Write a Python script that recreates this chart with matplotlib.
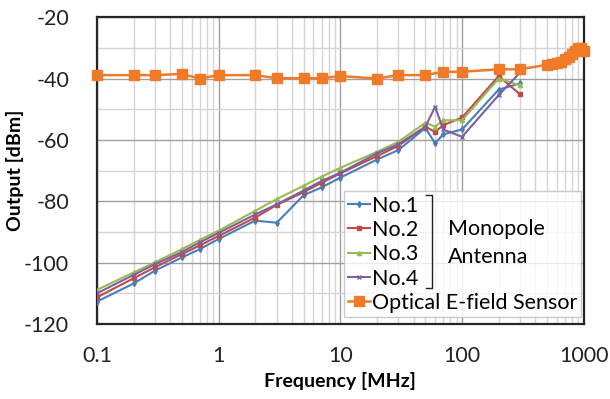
import matplotlib
matplotlib.use("Agg")
import matplotlib.pyplot as plt
from matplotlib.ticker import FixedLocator, NullFormatter, LogLocator

freq_mono = [0.1, 0.2, 0.3, 0.5, 0.7, 1, 2, 3, 5, 7, 10, 20, 30, 50, 60, 70, 100, 200, 300]
no1 = [-112.7, -106.8, -102.6, -98.3, -95.6, -92.3, -86.3, -87.0, -78.0, -75.5, -72.3, -66.4, -63.3, -56.1, -61.1, -58.2, -56.6, -43.6, -41.6]
no2 = [-111.3, -105.1, -101.5, -97.2, -94.4, -91.3, -85.3, -81.2, -77.0, -74.0, -70.9, -65.3, -61.9, -55.7, -57.4, -55.2, -52.7, -39.2, -45.2]
no3 = [-108.9, -103.2, -99.9, -95.6, -92.6, -89.6, -83.1, -79.3, -74.9, -72.0, -69.1, -63.9, -60.6, -54.4, -55.7, -53.6, -53.6, -40.0, -42.2]
no4 = [-110.0, -104.0, -100.5, -96.5, -93.4, -90.3, -84.3, -81.0, -76.5, -73.4, -70.7, -64.4, -61.4, -55.7, -49.2, -56.6, -59.0, -45.4, -38.0]

freq_opt = [0.1, 0.2, 0.3, 0.5, 0.7, 1, 2, 3, 5, 7, 10, 20, 30, 50, 70, 100, 200, 300,
            500, 550, 600, 650, 700, 750, 800, 850, 900, 950, 1000]
opt = [-38.9, -38.9, -38.9, -38.5, -40.0, -38.9, -38.9, -39.9, -39.9, -39.9, -39.2, -40.0, -38.9, -38.9, -37.8, -37.8, -37.0, -37.0,
       -35.5, -35.3, -35.0, -34.5, -33.8, -33.0, -32.0, -31.0, -30.2, -30.2, -31.0]

labels = ["No.1", "No.2", "No.3", "No.4", "Optical E-field Sensor"]
colors = ["#4a7ebb", "#be4b48", "#98b954", "#7d60a0", "#f07a28"]
markers = ["d", "s", "^", "x", "s"]

plt.rcParams['font.family'] = ['Lato', 'DejaVu Sans']
plt.rcParams['axes.unicode_minus'] = False

fig = plt.figure(figsize=(6.10, 3.99), dpi=100)
ax = fig.add_axes([0.159, 0.188, 0.798, 0.769])

series = [no1, no2, no3, no4]
for i, ys in enumerate(series):
    ax.plot(freq_mono, ys, color=colors[i], marker=markers[i], ms=3.0, lw=1.5,
            mew=1.0, label=labels[i], zorder=3)
ax.plot(freq_opt, opt, color=colors[4], marker="s", ms=7, lw=1.8, label=labels[4],
        zorder=4, clip_on=False)

ax.set_xscale("log")
ax.set_xlim(0.1, 1000)
ax.set_ylim(-120, -20)
ax.set_yticks(range(-120, -19, 20))
ax.set_yticks(range(-110, -20, 20), minor=True)
ax.xaxis.set_major_locator(FixedLocator([0.1, 1, 10, 100, 1000]))
ax.xaxis.set_minor_locator(LogLocator(base=10, subs=range(2, 10)))
ax.xaxis.set_minor_formatter(NullFormatter())
ax.set_xticklabels(["0.1", "1", "10", "100", "1000"])

ax.grid(True, which="major", color="#a0a0a0", lw=1.0, zorder=0)
ax.grid(True, which="minor", color="#d4d4d4", lw=1.0, zorder=0)
ax.set_axisbelow(True)

ax.tick_params(axis="both", which="both", length=0, labelsize=15.5, colors="#222222")
ax.tick_params(axis="x", pad=16)
ax.tick_params(axis="y", pad=20)
for s in ax.spines.values():
    s.set_color("#262626")
    s.set_linewidth(1.6)

ax.set_xlabel("Frequency [MHz]", fontsize=14, fontweight="bold", labelpad=4)
ax.set_ylabel("Output [dBm]", fontsize=14, fontweight="bold")
ax.yaxis.set_label_coords(-0.15, 0.5)

leg = ax.legend(loc="lower right", bbox_to_anchor=(0.995, 0.022), fontsize=15.5,
                handlelength=1.0, handletextpad=0.1, labelspacing=0.2,
                borderpad=0.2, borderaxespad=0.0, fancybox=False,
                frameon=True, edgecolor="#bfbfbf")
leg.get_frame().set_linewidth(1.0)
leg.set_zorder(5)

# bracket and group label
bx = (432 - 97) / 487
y_top = 1 - (195 - 17) / 307
y_bot = 1 - (288 - 17) / 307
ax.plot([bx - 0.012, bx, bx, bx - 0.012], [y_top, y_top, y_bot, y_bot],
        transform=ax.transAxes, color="#222222", lw=1.0, zorder=6, clip_on=False)
ax.text((448 - 97) / 487, 1 - (229 - 17) / 307, "Monopole", transform=ax.transAxes,
        fontsize=15.5, va="center", ha="left", zorder=6)
ax.text((448 - 97) / 487, 1 - (257 - 17) / 307, "Antenna", transform=ax.transAxes,
        fontsize=15.5, va="center", ha="left", zorder=6)

fig.savefig("out.png", dpi=100)
